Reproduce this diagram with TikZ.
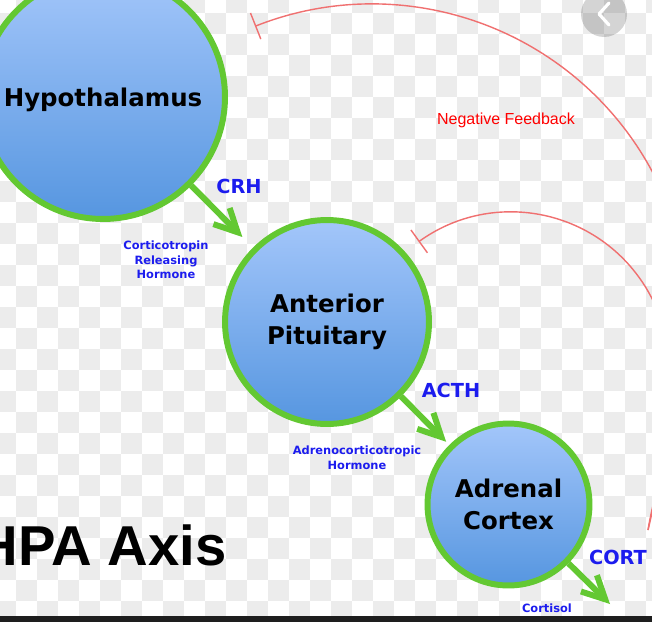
\documentclass[tikz,border=0pt]{standalone}
\usepackage{fontspec}
\setmainfont{DejaVu Sans}
\newfontfamily\arialfont{Liberation Sans}
\usetikzlibrary{arrows.meta}

\definecolor{ringgreen}{RGB}{99,200,50}
\definecolor{glandtop}{RGB}{163,198,250}
\definecolor{glandbottom}{RGB}{86,150,224}
\definecolor{hormoneblue}{RGB}{28,28,238}
\definecolor{feedbackred}{RGB}{240,112,112}
\definecolor{checkgray}{RGB}{236,236,236}
\definecolor{barblack}{RGB}{30,30,30}

\begin{document}
\begin{tikzpicture}[x=0.02cm, y=0.02cm]
    % Styles
    \tikzstyle{gland} = [circle, draw=ringgreen, line width=3.4pt, top color=glandtop, bottom color=glandbottom, align=center, inner sep=0pt, font=\bfseries\fontsize{13.9}{18.3}\selectfont]
    \tikzstyle{hormone} = [-{Straight Barb[length=13pt, width=13pt]}, draw=ringgreen, line width=3.4pt]
    \tikzstyle{short} = [text=hormoneblue, font=\bfseries\fontsize{11}{13}\selectfont]
    \tikzstyle{long} = [text=hormoneblue, align=center, inner sep=0pt, font=\bfseries\fontsize{6.5}{8.3}\selectfont]
    \tikzstyle{feedback} = [{Bar[width=16pt]}-, draw=feedbackred, line width=0.8pt]

    % Background
    \useasboundingbox (0,0) rectangle (652,-622);
    \clip (0,0) rectangle (652,-622);
    \fill[white] (0,0) rectangle (652,-622);
    \foreach \i in {0,2,...,30} \foreach \j in {0,2,...,28}
        \fill[checkgray] ({-5+21*\i},{-12.7-21*\j}) rectangle ++(21,-21);
    \foreach \i in {1,3,...,31} \foreach \j in {-1,1,...,27}
        \fill[checkgray] ({-5+21*\i},{-12.7-21*\j}) rectangle ++(21,-21);

    % Glands
    \node[gland, minimum size=4.88cm, text depth=0pt] (hyp) at (103,-97) {Hypothalamus};
    \node[gland, minimum size=4.08cm] (ant) at (327,-322) {Anterior\\Pituitary};
    \node[gland, minimum size=3.24cm] (adr) at (508.5,-504.5) {Adrenal\\Cortex};

    % Hormones
    \node[short] (crh) at (239,-186) {CRH};
    \node[long] (crhname) at (166,-260) {Corticotropin\\Releasing\\Hormone};
    \node[short] (acth) at (451,-390) {ACTH};
    \node[long] (acthname) at (357,-457.5) {Adrenocorticotropic\\Hormone};
    \node[short] (cort) at (618,-557) {CORT};
    \node[long] (cortname) at (547,-608.5) {Cortisol};

    \node[text=red, font=\arialfont\fontsize{9.1}{10}\selectfont] (neg) at (506,-120.5) {Negative Feedback};
    \node[anchor=east, inner sep=0pt, font=\arialfont\bfseries\fontsize{32}{36}\selectfont] (title) at (227,-545) {HPA Axis};

    % Arrows
    \coordinate (cortend) at (610,-604);
    \draw[hormone, shorten >=0.3cm] (hyp) -- (ant);
    \draw[hormone, shorten >=0.09cm] (ant) -- (adr);
    \draw[hormone] (adr) -- (cortend);

    % Feedback loops
    \coordinate (fbroot) at (648,-530);
    \coordinate (fbhyp) at (255,-26.3);
    \coordinate (fbant) at (418.6,-241.8);
    \draw[feedback] (fbhyp) arc[start angle=111.6, end angle=0, radius=318] .. controls (690,-380) and (655,-485) .. (fbroot);
    \draw[feedback] (fbant) arc[start angle=125.8, end angle=0, radius=158] .. controls (669,-420) and (660,-480) .. (fbroot);

    % Viewer button
    \fill[black, fill opacity=0.17] (604,-14) circle (23);
    \draw[white, line width=1.8pt, line cap=round, line join=round] (609,-3) -- (599,-14) -- (609,-25);
    \fill[barblack] (0,-616) rectangle (652,-622);
\end{tikzpicture}
\end{document}
